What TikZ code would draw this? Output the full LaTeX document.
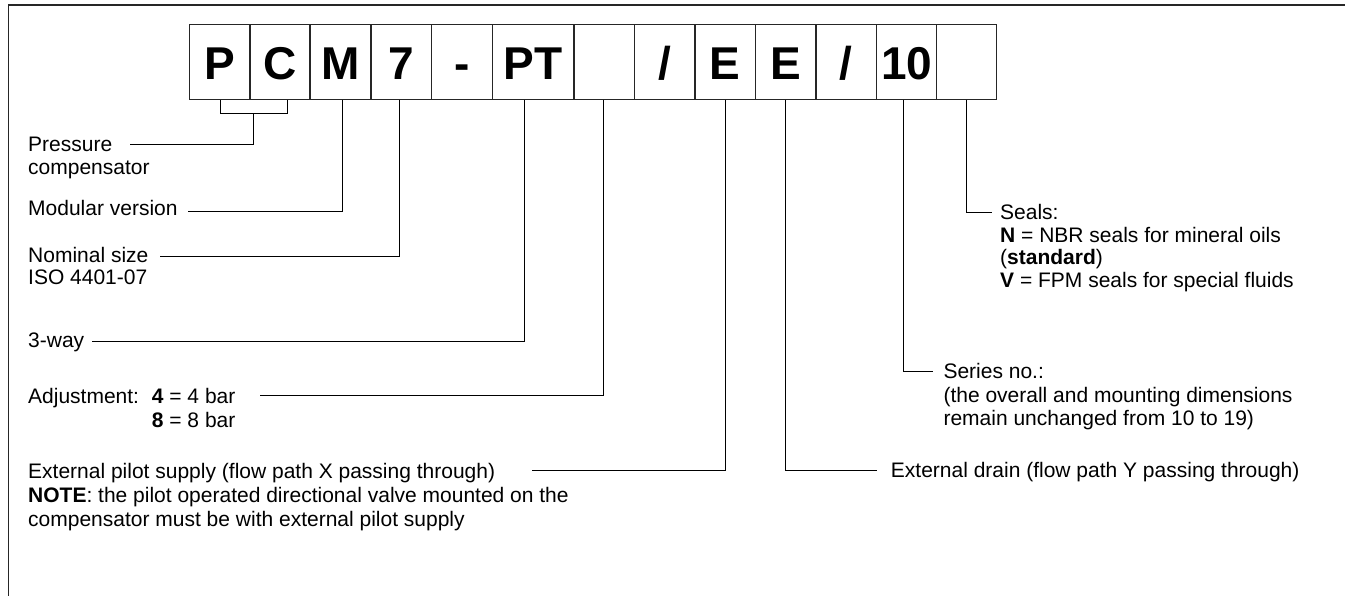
\documentclass[tikz,border=0pt]{standalone}
\usepackage{fontspec}
\setmainfont{Liberation Sans}
\usetikzlibrary{calc}
\begin{document}
\begin{tikzpicture}[x=1pt,y=-1pt,
  cell/.style={draw=black!85, line width=1.3pt, rectangle, inner sep=0pt,
    minimum height=75pt, text height=36pt, text depth=0pt,
    font=\fontsize{46}{46}\selectfont\bfseries},
  conn/.style={draw=black, line width=1pt},
  lbl/.style={anchor=base west, inner sep=0pt, font=\fontsize{21}{23}\selectfont},
  frame/.style={draw=black!85, line width=1.6pt}]

\useasboundingbox (0,0) rectangle (1345,596);

% outer frame (top and left edges)
\coordinate (fBottom) at (8.3,596);
\coordinate (fCorner) at (8.3,5.3);
\coordinate (fTop) at (1345,5.3);
\draw[frame] (fBottom) -- (fCorner) -- (fTop);

% ordering code cells
\node[cell, minimum width=60.7pt] (bP)  at (219.65,61.8) {P};
\node[cell, minimum width=60pt]   (bC)  at (280,61.8)    {C};
\node[cell, minimum width=61pt]   (bM)  at (340.5,61.8)  {M};
\node[cell, minimum width=60.7pt] (b7)  at (401.35,61.8) {7};
\node[cell, minimum width=60.6pt] (bD)  at (462,61.8)    {-};
\node[cell, minimum width=81.7pt] (bPT) at (533.15,61.8) {PT};
\node[cell, minimum width=60.3pt] (bA)  at (604.15,61.8) {};
\node[cell, minimum width=60.7pt] (bS1) at (664.65,61.8) {/};
\node[cell, minimum width=60.3pt] (bE1) at (725.15,61.8) {E};
\node[cell, minimum width=60.7pt] (bE2) at (785.65,61.8) {E};
\node[cell, minimum width=60.7pt] (bS2) at (846.35,61.8) {/};
\node[cell, minimum width=60pt]   (b10) at (906.7,61.8)  {10};
\node[cell, minimum width=60pt]   (bZ)  at (966.7,61.8)  {};

% left-hand descriptions
\node[lbl] (lPress1) at (28,152) {Pressure};
\node[lbl] (lPress2) at (28,175) {compensator};
\node[lbl] (lMod)    at (28,216) {Modular version};
\node[lbl] (lNom1)   at (28,263) {Nominal size};
\node[lbl] (lNom2)   at (28,285) {ISO 4401-07};
\node[lbl] (lWay)    at (28,347) {3-way};
\node[lbl] (lAdj)    at (28,403) {Adjustment:};
\node[lbl] (lAdj4)   at (151.7,403) {\textbf{4} = 4 bar};
\node[lbl] (lAdj8)   at (151.7,427) {\textbf{8} = 8 bar};
\node[lbl] (lPil1)   at (28,478) {External pilot supply (flow path X passing through)};
\node[lbl] (lPil2)   at (28,502) {\textbf{NOTE}: the pilot operated directional valve mounted on the};
\node[lbl] (lPil3)   at (28,526) {compensator must be with external pilot supply};

% right-hand descriptions
\node[lbl] (lSeal1) at (1000,220) {Seals:};
\node[lbl] (lSeal2) at (1000,243) {\textbf{N} = NBR seals for mineral oils};
\node[lbl] (lSeal3) at (1000,265) {(\textbf{standard})};
\node[lbl] (lSeal4) at (1000,288) {\textbf{V} = FPM seals for special fluids};
\node[lbl] (lSer1)  at (943.3,378) {Series no.:};
\node[lbl] (lSer2)  at (943.3,402) {(the overall and mounting dimensions};
\node[lbl] (lSer3)  at (943.3,425) {remain unchanged from 10 to 19)};
\node[lbl] (lDrain) at (890.7,477) {External drain (flow path Y passing through)};

% free ends of the leader lines, next to their descriptions
\coordinate (ePress) at (129.5,145);
\coordinate (eMod)   at (188,211.7);
\coordinate (eNom)   at (160,256.7);
\coordinate (eWay)   at (91.7,341.7);
\coordinate (eAdj)   at (260,395);
\coordinate (ePil)   at (531.7,470.7);
\coordinate (eDrain) at (876.7,470);
\coordinate (eSer)   at (932.7,371.7);
\coordinate (eSeal)  at (991.7,212.7);

% bracket joining P and C
\coordinate (kP) at ($(bP.south)+(1,0)$);
\coordinate (kC) at ($(bC.south)+(7.3,0)$);
\draw[conn] (kP) -- ++(0,14) -| (kC);
\draw[conn] ($(kP)!0.5!(kC)+(0,14)$) |- (ePress);

% leader lines
\draw[conn] ($(bM.south)+(1.5,0)$) |- (eMod);
\draw[conn] ($(b7.south)+(-1.5,0)$) |- (eNom);
\draw[conn] ($(bPT.south)+(-9,0)$) |- (eWay);
\draw[conn] ($(bA.south)+(-1,0)$) |- (eAdj);
\draw[conn] (bE1.south) |- (ePil);
\draw[conn] (bE2.south) |- (eDrain);
\draw[conn] ($(b10.south)+(-3.4,0)$) |- (eSer);
\draw[conn] (bZ.south) |- (eSeal);
\end{tikzpicture}
\end{document}
